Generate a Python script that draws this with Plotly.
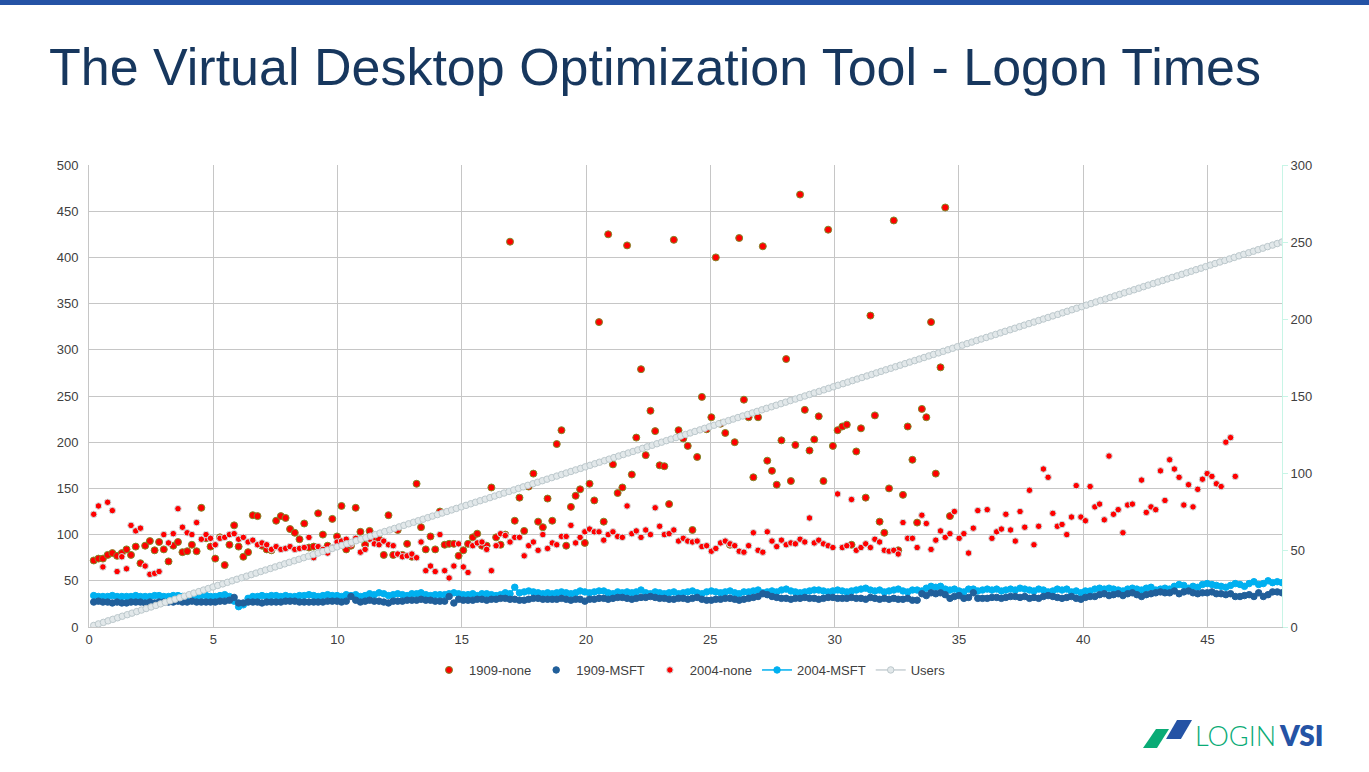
import plotly.graph_objects as go

# minutes into the test for the response time samples
time_min = [
    0.19, 0.38, 0.56, 0.75, 0.94, 1.13, 1.32, 1.51, 1.69, 1.88,
    2.07, 2.26, 2.45, 2.64, 2.82, 3.01, 3.20, 3.39, 3.58, 3.76,
    3.95, 4.14, 4.33, 4.52, 4.71, 4.89, 5.08, 5.27, 5.46, 5.65,
    5.84, 6.02, 6.21, 6.40, 6.59, 6.78, 6.96, 7.15, 7.34, 7.53,
    7.72, 7.91, 8.09, 8.28, 8.47, 8.66, 8.85, 9.04, 9.22, 9.41,
    9.60, 9.79, 9.98, 10.16, 10.35, 10.54, 10.73, 10.92, 11.11, 11.29,
    11.48, 11.67, 11.86, 12.05, 12.24, 12.42, 12.61, 12.80, 12.99, 13.18,
    13.36, 13.55, 13.74, 13.93, 14.12, 14.31, 14.49, 14.68, 14.87, 15.06,
    15.25, 15.44, 15.62, 15.81, 16.00, 16.19, 16.38, 16.56, 16.75, 16.94,
    17.13, 17.32, 17.51, 17.69, 17.88, 18.07, 18.26, 18.45, 18.64, 18.82,
    19.01, 19.20, 19.39, 19.58, 19.76, 19.95, 20.14, 20.33, 20.52, 20.71,
    20.89, 21.08, 21.27, 21.46, 21.65, 21.84, 22.02, 22.21, 22.40, 22.59,
    22.78, 22.96, 23.15, 23.34, 23.53, 23.72, 23.91, 24.09, 24.28, 24.47,
    24.66, 24.85, 25.04, 25.22, 25.41, 25.60, 25.79, 25.98, 26.16, 26.35,
    26.54, 26.73, 26.92, 27.11, 27.29, 27.48, 27.67, 27.86, 28.05, 28.24,
    28.42, 28.61, 28.80, 28.99, 29.18, 29.36, 29.55, 29.74, 29.93, 30.12,
    30.31, 30.49, 30.68, 30.87, 31.06, 31.25, 31.44, 31.62, 31.81, 32.00,
    32.19, 32.38, 32.56, 32.75, 32.94, 33.13, 33.32, 33.51, 33.69, 33.88,
    34.07, 34.26, 34.45, 34.64, 34.82, 35.01, 35.20, 35.39, 35.58, 35.76,
    35.95, 36.14, 36.33, 36.52, 36.71, 36.89, 37.08, 37.27, 37.46, 37.65,
    37.84, 38.02, 38.21, 38.40, 38.59, 38.78, 38.96, 39.15, 39.34, 39.53,
    39.72, 39.91, 40.09, 40.28, 40.47, 40.66, 40.85, 41.04, 41.22, 41.41,
    41.60, 41.79, 41.98, 42.16, 42.35, 42.54, 42.73, 42.92, 43.11, 43.29,
    43.48, 43.67, 43.86, 44.05, 44.24, 44.42, 44.61, 44.80, 44.99, 45.18,
    45.36, 45.55, 45.74, 45.93, 46.12, 46.31, 46.49, 46.68, 46.87, 47.06,
    47.25, 47.44, 47.62, 47.81, 48.00,
]

# minutes at which each user logged on
users_time = [
    0.19, 0.38, 0.58, 0.77, 0.96, 1.15, 1.34, 1.54, 1.73, 1.92,
    2.11, 2.30, 2.50, 2.69, 2.88, 3.07, 3.26, 3.46, 3.65, 3.84,
    4.03, 4.22, 4.42, 4.61, 4.80, 4.99, 5.18, 5.38, 5.57, 5.76,
    5.95, 6.14, 6.34, 6.53, 6.72, 6.91, 7.10, 7.30, 7.49, 7.68,
    7.87, 8.06, 8.26, 8.45, 8.64, 8.83, 9.02, 9.22, 9.41, 9.60,
    9.79, 9.98, 10.18, 10.37, 10.56, 10.75, 10.94, 11.14, 11.33, 11.52,
    11.71, 11.90, 12.10, 12.29, 12.48, 12.67, 12.86, 13.06, 13.25, 13.44,
    13.63, 13.82, 14.02, 14.21, 14.40, 14.59, 14.78, 14.98, 15.17, 15.36,
    15.55, 15.74, 15.94, 16.13, 16.32, 16.51, 16.70, 16.90, 17.09, 17.28,
    17.47, 17.66, 17.86, 18.05, 18.24, 18.43, 18.62, 18.82, 19.01, 19.20,
    19.39, 19.58, 19.78, 19.97, 20.16, 20.35, 20.54, 20.74, 20.93, 21.12,
    21.31, 21.50, 21.70, 21.89, 22.08, 22.27, 22.46, 22.66, 22.85, 23.04,
    23.23, 23.42, 23.62, 23.81, 24.00, 24.19, 24.38, 24.58, 24.77, 24.96,
    25.15, 25.34, 25.54, 25.73, 25.92, 26.11, 26.30, 26.50, 26.69, 26.88,
    27.07, 27.26, 27.46, 27.65, 27.84, 28.03, 28.22, 28.42, 28.61, 28.80,
    28.99, 29.18, 29.38, 29.57, 29.76, 29.95, 30.14, 30.34, 30.53, 30.72,
    30.91, 31.10, 31.30, 31.49, 31.68, 31.87, 32.06, 32.26, 32.45, 32.64,
    32.83, 33.02, 33.22, 33.41, 33.60, 33.79, 33.98, 34.18, 34.37, 34.56,
    34.75, 34.94, 35.14, 35.33, 35.52, 35.71, 35.90, 36.10, 36.29, 36.48,
    36.67, 36.86, 37.06, 37.25, 37.44, 37.63, 37.82, 38.02, 38.21, 38.40,
    38.59, 38.78, 38.98, 39.17, 39.36, 39.55, 39.74, 39.94, 40.13, 40.32,
    40.51, 40.70, 40.90, 41.09, 41.28, 41.47, 41.66, 41.86, 42.05, 42.24,
    42.43, 42.62, 42.82, 43.01, 43.20, 43.39, 43.58, 43.78, 43.97, 44.16,
    44.35, 44.54, 44.74, 44.93, 45.12, 45.31, 45.50, 45.70, 45.89, 46.08,
    46.27, 46.46, 46.66, 46.85, 47.04, 47.23, 47.42, 47.62, 47.81, 48.00,
]

none_1909 = [
    72, 74, 74, 78, 80, 77, 80, 84, 78, 87, 69, 88, 93, 83, 92, 84, 71, 88, 92, 81,
    82, 89, 82, 129, 96, 87, 74, 97, 67, 89, 110, 87, 76, 81, 121, 120, 88, 84, 83, 115,
    120, 118, 106, 102, 95, 112, 86, 87, 123, 100, 88, 117, 98, 131, 84, 88, 129, 103, 89, 104,
    95, 95, 78, 121, 78, 105, 78, 90, 76, 155, 108, 84, 98, 84, 125, 89, 90, 90, 77, 83,
    90, 97, 101, 88, 88, 151, 97, 89, 100, 417, 115, 140, 104, 152, 166, 114, 108, 139, 115, 198,
    213, 88, 130, 142, 149, 91, 155, 137, 330, 114, 425, 176, 145, 151, 413, 165, 205, 279, 186, 234,
    212, 175, 174, 133, 419, 213, 204, 196, 105, 184, 249, 214, 227, 400, 220, 210, 89, 200, 421, 246,
    227, 162, 227, 412, 180, 169, 154, 202, 290, 158, 197, 468, 235, 191, 203, 228, 158, 430, 196, 213,
    217, 219, 89, 190, 215, 140, 337, 229, 114, 102, 150, 440, 83, 143, 217, 181, 113, 236, 227, 330,
    166, 281, 454, 120,
]

msft_1909 = [
    27, 28, 27, 27, 26, 27, 26, 26, 27, 27, 27, 26, 27, 26, 27, 27, 27, 27, 28, 27,
    27, 28, 27, 27, 27, 27, 27, 28, 28, 29, 32, 26, 26, 27, 27, 27, 26, 27, 27, 27,
    27, 28, 28, 28, 27, 27, 27, 27, 27, 27, 28, 28, 28, 27, 28, 33, 29, 27, 28, 29,
    28, 28, 27, 26, 28, 28, 28, 29, 29, 29, 30, 29, 29, 28, 28, 28, 33, 26, 30, 29,
    29, 29, 30, 30, 29, 30, 30, 31, 31, 30, 30, 29, 29, 30, 31, 31, 30, 30, 30, 30,
    31, 30, 29, 30, 30, 28, 30, 30, 31, 31, 30, 31, 32, 32, 31, 30, 31, 32, 32, 33,
    32, 31, 31, 30, 30, 31, 31, 30, 31, 32, 30, 29, 29, 30, 30, 31, 31, 30, 29, 30,
    31, 32, 33, 36, 35, 33, 32, 31, 31, 30, 31, 31, 32, 31, 31, 30, 31, 32, 32, 31,
    31, 31, 32, 31, 31, 30, 32, 31, 30, 31, 30, 31, 30, 30, 31, 29, 29, 36, 34, 37,
    36, 37, 35, 31, 33, 34, 31, 32, 37, 31, 31, 31, 32, 32, 31, 32, 33, 33, 32, 33,
    31, 32, 31, 33, 34, 33, 32, 31, 32, 33, 31, 30, 32, 33, 33, 35, 36, 34, 35, 36,
    34, 36, 37, 35, 33, 35, 36, 37, 38, 37, 37, 39, 36, 38, 39, 37, 36, 37, 37, 38,
    36, 36, 35, 36, 33, 33, 34, 35, 33, 37, 33, 35, 38, 38, 37,
]

none_2004 = [
    122, 131, 65, 135, 126, 60, 76, 63, 110, 104, 107, 66, 57, 58, 60, 100, 91, 101, 128, 108,
    102, 100, 113, 95, 100, 96, 89, 96, 97, 100, 101, 95, 97, 92, 94, 89, 91, 89, 84, 87,
    84, 85, 87, 84, 85, 86, 97, 75, 87, 84, 80, 86, 92, 93, 95, 90, 96, 81, 84, 95,
    90, 89, 93, 89, 88, 79, 76, 77, 79, 75, 92, 61, 66, 60, 100, 61, 53, 66, 90, 65,
    59, 88, 91, 92, 84, 61, 88, 101, 99, 92, 97, 97, 77, 88, 92, 83, 100, 85, 91, 89,
    98, 98, 110, 91, 97, 103, 106, 103, 103, 94, 100, 103, 98, 97, 131, 101, 104, 97, 105, 100,
    129, 109, 100, 101, 105, 93, 96, 93, 92, 93, 87, 88, 82, 85, 91, 93, 90, 88, 82, 81,
    88, 102, 83, 81, 103, 93, 87, 94, 89, 91, 90, 95, 92, 118, 91, 94, 90, 88, 86, 144,
    86, 88, 138, 83, 86, 90, 86, 95, 92, 83, 82, 83, 79, 113, 96, 96, 86, 121, 112, 84,
    94, 104, 97, 101, 125, 96, 101, 80, 107, 126, None, 127, 96, 103, 106, 122, 105, 93, 125, 108,
    148, 89, 109, 171, 162, 123, 109, 111, 100, 119, 153, 119, 115, 152, 130, 133, 116, 185, 122, 127,
    102, 132, 133, None, 159, 124, 130, 127, 169, 137, 181, 171, 162, 132, 154, 130, 149, 160, 166, 163,
    155, 152, 200, 205, 163,
]

msft_2004 = [
    34, 33, 33, 33, 34, 33, 33, 33, 33, 34, 33, 33, 33, 34, 34, 33, 33, 34, 34, 33,
    33, 34, 33, 34, 34, 33, 33, 34, 35, 33, 28, 22, 24, 31, 33, 33, 34, 33, 34, 34,
    33, 34, 33, 33, 34, 34, 35, 34, 33, 34, 35, 34, 34, 33, 35, 34, 35, 33, 34, 36,
    35, 37, 36, 34, 35, 36, 35, 34, 36, 36, 37, 35, 34, 35, 35, 35, 36, 37, 36, 35,
    35, 36, 34, 36, 36, 35, 34, 35, 37, 36, 43, 37, 38, 39, 38, 37, 36, 37, 36, 37,
    38, 37, 36, 37, 39, 38, 37, 38, 39, 39, 37, 36, 38, 37, 38, 37, 38, 40, 37, 36,
    38, 37, 36, 37, 38, 36, 37, 38, 39, 37, 36, 38, 39, 38, 37, 38, 39, 37, 36, 38,
    38, 39, 40, 37, 38, 39, 38, 40, 41, 39, 38, 37, 38, 39, 40, 40, 39, 38, 39, 40,
    39, 38, 39, 40, 41, 42, 40, 39, 40, 38, 39, 40, 41, 39, 38, 40, 40, 39, 42, 44,
    43, 44, 41, 40, 41, 39, 38, 41, 41, 39, 40, 41, 40, 41, 39, 40, 41, 40, 42, 41,
    40, 39, 41, 40, 38, 39, 41, 40, 41, 38, 39, 37, 39, 39, 41, 42, 41, 42, 41, 40,
    39, 41, 42, 41, 40, 42, 43, 40, 41, 42, 41, 44, 46, 45, 42, 44, 43, 46, 47, 46,
    45, 44, 43, 45, 47, 46, 44, 47, 49, 46, 47, 50, 48, 49, 48,
]

users = [
    1, 2, 3, 4, 5, 6, 7, 8, 9, 10, 11, 12, 13, 14, 15, 16, 17, 18, 19, 20,
    21, 22, 23, 24, 25, 26, 27, 28, 29, 30, 31, 32, 33, 34, 35, 36, 37, 38, 39, 40,
    41, 42, 43, 44, 45, 46, 47, 48, 49, 50, 51, 52, 53, 54, 55, 56, 57, 58, 59, 60,
    61, 62, 63, 64, 65, 66, 67, 68, 69, 70, 71, 72, 73, 74, 75, 76, 77, 78, 79, 80,
    81, 82, 83, 84, 85, 86, 87, 88, 89, 90, 91, 92, 93, 94, 95, 96, 97, 98, 99, 100,
    101, 102, 103, 104, 105, 106, 107, 108, 109, 110, 111, 112, 113, 114, 115, 116, 117, 118, 119, 120,
    121, 122, 123, 124, 125, 126, 127, 128, 129, 130, 131, 132, 133, 134, 135, 136, 137, 138, 139, 140,
    141, 142, 143, 144, 145, 146, 147, 148, 149, 150, 151, 152, 153, 154, 155, 156, 157, 158, 159, 160,
    161, 162, 163, 164, 165, 166, 167, 168, 169, 170, 171, 172, 173, 174, 175, 176, 177, 178, 179, 180,
    181, 182, 183, 184, 185, 186, 187, 188, 189, 190, 191, 192, 193, 194, 195, 196, 197, 198, 199, 200,
    201, 202, 203, 204, 205, 206, 207, 208, 209, 210, 211, 212, 213, 214, 215, 216, 217, 218, 219, 220,
    221, 222, 223, 224, 225, 226, 227, 228, 229, 230, 231, 232, 233, 234, 235, 236, 237, 238, 239, 240,
    241, 242, 243, 244, 245, 246, 247, 248, 249, 250,
]

FONT = "Liberation Sans"
GRID = "#c6c6c6"
TEXT = "#404040"

# plot area in page pixels, used to place the slide furniture
L, R, T, B = 89, 1282, 165, 627


def px(x):
    return (x - L) / (R - L)


def py(y):
    return (B - y) / (B - T)


def poly(points, color):
    path = "M " + " L ".join(f"{px(a):.4f} {py(b):.4f}" for a, b in points) + " Z"
    return dict(type="path", xref="paper", yref="paper", path=path,
                fillcolor=color, line_width=0, layer="above")


def scatter(name, x, y, color, size, border, rank, line=None, axis="y"):
    return go.Scatter(
        name=name, x=x[:len(y)], y=y, yaxis=axis, legendrank=rank,
        mode="lines+markers" if line else "markers",
        line=dict(color=line, width=1.5) if line else None,
        marker=dict(color=color, size=size, line=dict(color=border, width=1)),
    )


fig = go.Figure()
# draw order differs from legend order, dark blue sits over light blue
fig.add_trace(scatter("1909-none", time_min, none_1909, "#ff0000", 7, "#7f8a2a", 1))
fig.add_trace(scatter("2004-none", time_min, none_2004, "#ff0000", 6.5, "#cfe6e6", 3))
fig.add_trace(scatter("2004-MSFT", time_min, msft_2004, "#00b0f0", 6.5, "#00b0f0", 4, line="#00b0f0"))
fig.add_trace(scatter("1909-MSFT", time_min, msft_1909, "#215f9a", 6.5, "#215f9a", 2))
fig.add_trace(scatter("Users", users_time, users, "#e2e8ea", 6.5, "#bcc8cc", 5, line="#c8d0d4", axis="y2"))

fig.update_layout(
    width=1369, height=772,
    margin=dict(l=L, r=1369 - R, t=T, b=772 - B),
    paper_bgcolor="white", plot_bgcolor="white",
    font=dict(family=FONT, size=13, color=TEXT),
    showlegend=True,
    legend=dict(orientation="h", xanchor="center", yanchor="middle", x=px(690), y=py(670),
                font=dict(size=13, color=TEXT), itemwidth=30, bgcolor="rgba(0,0,0,0)"),
    xaxis=dict(range=[0, 48], tick0=0, dtick=5, showgrid=True, gridcolor=GRID, gridwidth=1,
               zeroline=False, showline=True, linecolor=GRID, ticks=""),
    yaxis=dict(range=[0, 500], tick0=0, dtick=50, showgrid=True, gridcolor=GRID, gridwidth=1,
               zeroline=False, showline=True, linecolor=GRID, ticks="", ticklabelstandoff=7),
    yaxis2=dict(range=[0, 300], tick0=0, dtick=50, overlaying="y", side="right", showgrid=False,
                zeroline=False, showline=True, linecolor="#c8f5e6",
                ticks="outside", ticklen=5, tickcolor="#c8f5e6"),
    shapes=[
        dict(type="rect", xref="paper", yref="paper", x0=px(0), x1=px(1369), y0=py(5), y1=py(0),
             fillcolor="#2553a5", line_width=0, layer="above"),
        poly([(1143, 748), (1156, 729), (1169, 729), (1157, 748)], "#0aab76"),
        poly([(1166, 739), (1177, 720), (1192, 720), (1181, 739)], "#2553a5"),
    ],
    annotations=[
        dict(text="The Virtual Desktop Optimization Tool - Logon Times", xref="paper", yref="paper",
             x=px(47), y=py(67), xanchor="left", yanchor="middle", showarrow=False,
             font=dict(family=FONT, size=52, color="#17375e")),
        dict(text="LOGIN", xref="paper", yref="paper", x=px(1193), y=py(735),
             xanchor="left", yanchor="middle", showarrow=False,
             font=dict(family="Lato", size=27, weight=300, color="#0aab76")),
        dict(text="VSI", xref="paper", yref="paper", x=px(1277), y=py(735),
             xanchor="left", yanchor="middle", showarrow=False,
             font=dict(family="Lato", size=28, weight=800, color="#2553a5")),
    ],
)

# page body has a default margin that would push the slide off its origin
fig.write_html("out.html", config={"displayModeBar": False},
               post_script="document.body.style.margin='0';")
